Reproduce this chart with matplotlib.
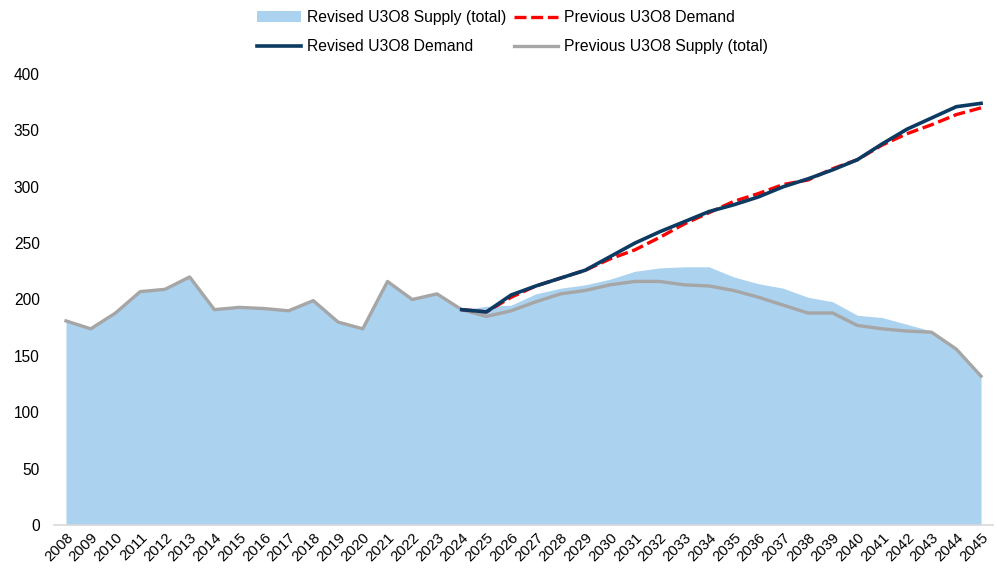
import numpy as np
import matplotlib
matplotlib.use("Agg")
import matplotlib.pyplot as plt

years = [str(y) for y in range(2008, 2046)]

# Revised U3O8 supply (total), area
revised_supply = [181, 174, 188, 207, 209, 220, 191, 193, 192, 190, 199, 180, 174, 216, 200, 205, 191,
                  194, 195, 205, 210, 213, 218, 225, 228, 229, 229, 220, 214, 210, 202, 198, 186, 184,
                  178, 172, 156, 132]

# Previous U3O8 supply (total)
previous_supply = [181, 174, 188, 207, 209, 220, 191, 193, 192, 190, 199, 180, 174, 216, 200, 205, 191,
                   185, 190, 198, 205, 208, 213, 216, 216, 213, 212, 208, 202, 195, 188, 188, 177, 174,
                   172, 171, 156, 132]

# demand lines start in 2024
revised_demand = [np.nan] * 16 + [191, 189, 204, 212, 219, 226, 238, 250, 260, 269, 278, 284, 291, 300,
                                  307, 315, 324, 338, 351, 361, 371, 374]
previous_demand = [np.nan] * 16 + [191, 189, 202, 212, 219, 226, 236, 244, 255, 267, 277, 287, 294, 302,
                                   306, 316, 324, 337, 347, 355, 364, 370]

x = np.arange(len(years))

fig = plt.figure(figsize=(9.97, 5.72), dpi=100)
ax = fig.add_axes([0.0538, 0.0822, 0.9426, 0.7884])
plt.rcParams['font.family'] = ['Liberation Sans', 'DejaVu Sans']

ax.fill_between(x, 0, revised_supply, color='#ABD2EF', lw=0, label='Revised U3O8 Supply (total)', zorder=1)
ax.plot(x, previous_supply, color='#A6A6A6', lw=2.4, label='Previous U3O8 Supply (total)', zorder=2)
ax.plot(x, previous_demand, color='#FF0000', lw=2.4, ls=(0, (3.6, 1.4)), label='Previous U3O8 Demand', zorder=3)
ax.plot(x, revised_demand, color='#0B3A62', lw=2.6, label='Revised U3O8 Demand', zorder=4)

ax.set_xlim(-0.5, len(years) - 0.5)
ax.set_ylim(0, 400)
ax.set_yticks(range(0, 401, 50))
ax.set_xticks(x)
ax.set_xticklabels(years, rotation=45, ha='right', rotation_mode='anchor', fontsize=10.8,
                   family='Liberation Sans')
for lab in ax.get_yticklabels():
    lab.set_fontsize(11.2)
    lab.set_family('Liberation Sans')
ax.tick_params(axis='both', length=0)
ax.tick_params(axis='y', pad=10)
ax.tick_params(axis='x', pad=4)

for s in ['top', 'right', 'left']:
    ax.spines[s].set_visible(False)
ax.spines['bottom'].set_color('#D9D9D9')
ax.spines['bottom'].set_linewidth(1.2)

h, l = ax.get_legend_handles_labels()
order = [0, 3, 2, 1]
fig.legend([h[i] for i in order], [l[i] for i in order], loc='upper center', bbox_to_anchor=(0.514, 1.007),
           ncol=2, frameon=False, handlelength=2.8, handletextpad=0.35,
           columnspacing=0.55, labelspacing=0.9, prop={'family': 'Liberation Sans', 'size': 11.3})

fig.savefig('out.png', dpi=100)
